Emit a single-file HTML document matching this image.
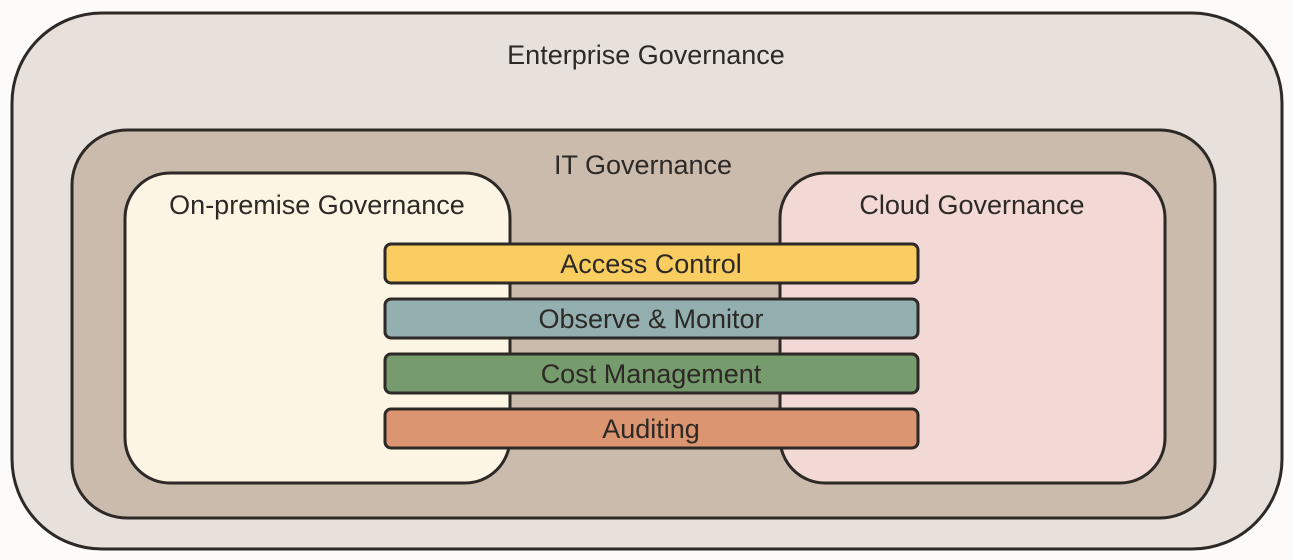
<!DOCTYPE html>
<html><head><meta charset="utf-8"><style>
html,body{margin:0;padding:0;background:#fcfbfa;}
svg{display:block}
text{font-family:"Liberation Sans",sans-serif;fill:#2d2926;font-size:27px;text-anchor:middle}
</style></head><body>
<svg width="1293" height="560" viewBox="0 0 1293 560">
<rect x="12" y="13" width="1270" height="536" rx="90" fill="#e7e0db" stroke="#2d2926" stroke-width="3"/>
<text x="646" y="64">Enterprise Governance</text>
<rect x="72" y="130" width="1143" height="388" rx="55" fill="#cbbbac" stroke="#2d2926" stroke-width="3"/>
<text x="643" y="174">IT Governance</text>
<rect x="125" y="173" width="385" height="310" rx="45" fill="#fcf5e3" stroke="#2d2926" stroke-width="3"/>
<text x="317" y="214">On-premise Governance</text>
<rect x="780" y="173" width="385" height="310" rx="45" fill="#f3d9d5" stroke="#2d2926" stroke-width="3"/>
<text x="972" y="214">Cloud Governance</text>
<rect x="385" y="244" width="533" height="39" rx="6" fill="#f9cd60" stroke="#2d2926" stroke-width="3"/>
<text x="651" y="273">Access Control</text>
<rect x="385" y="299" width="533" height="39" rx="6" fill="#94afb0" stroke="#2d2926" stroke-width="3"/>
<text x="651" y="328">Observe &amp; Monitor</text>
<rect x="385" y="354" width="533" height="39" rx="6" fill="#769b6d" stroke="#2d2926" stroke-width="3"/>
<text x="651" y="383">Cost Management</text>
<rect x="385" y="409" width="533" height="39" rx="6" fill="#dc9571" stroke="#2d2926" stroke-width="3"/>
<text x="651" y="438">Auditing</text>
</svg>
</body></html>
